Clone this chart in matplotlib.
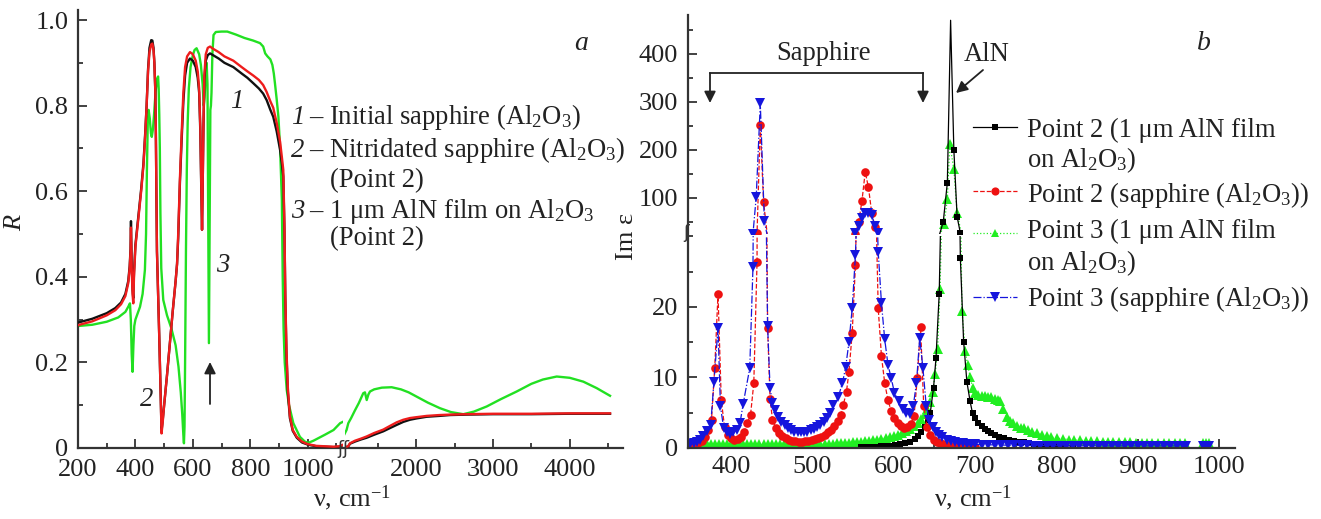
import numpy as np
import matplotlib.pyplot as plt
from matplotlib.lines import Line2D
from matplotlib.patches import FancyArrowPatch
from matplotlib.ticker import MultipleLocator, FuncFormatter

plt.rcParams['font.family'] = ['Liberation Serif', 'DejaVu Serif']
plt.rcParams['mathtext.fontset'] = 'custom'
plt.rcParams['mathtext.rm'] = 'Liberation Serif'
plt.rcParams['mathtext.it'] = 'Liberation Serif:italic'
plt.rcParams['mathtext.bf'] = 'Liberation Serif:bold'

# ---------------- panel a : reflectance R(nu) ----------------
nu_a = [200, 250, 300, 330, 350, 365, 375, 380, 383, 384.5, 387, 390, 392.6, 395, 400, 410, 420, 428,
        434, 439, 444, 449, 455, 459, 463, 466, 469, 471, 473, 475, 479, 483, 487, 491, 495, 500, 510,
        520, 530, 540, 545, 549, 555, 561, 567, 573, 580, 590, 600, 610, 617, 622, 626, 629, 632, 634,
        637, 640, 645, 652, 660, 670, 690, 710, 741, 770, 790, 811, 830, 845, 857, 870, 880, 892, 904,
        910, 915, 919, 922, 926, 931, 938, 948, 962, 980, 1000, 1030, 1060, 1090, 1110, 1135, 1200,
        1280, 1353, 1450, 1569, 1650, 1744, 1830, 1917, 2000, 2135, 2300, 2439, 2656, 3000, 3500,
        4000, 4525]
R_initial = [.293, .302, .315, .327, .34, .36, .39, .425, .465, .53, .43, .37, .35, .41, .475, .54, .605,
             .665, .735, .80, .885, .935, .953, .952, .935, .90, .84, .75, .60, .46, .36, .26, .15, .04,
             .065, .10, .17, .245, .32, .39, .43, .49, .62, .72, .81, .87, .90, .91, .905, .89, .865, .83,
             .74, .62, .51, .60, .75, .86, .905, .918, .922, .918, .91, .90, .89, .875, .865, .852, .84,
             .828, .813, .79, .774, .74, .696, .665, .634, .51, .35, .22, .13, .07, .04, .024, .013, .008,
             .004, .003, .002, .003, .010, .015, .020, .024, .031, .039, .046, .054, .061, .066, .069,
             .073, .075, .077, .078, .079, .079, .080, .080]
R_nitrid = [.287, .296, .310, .322, .336, .355, .385, .42, .46, .515, .42, .36, .338, .40, .47, .535, .60,
            .66, .73, .80, .88, .925, .943, .945, .93, .90, .84, .75, .60, .46, .36, .26, .15, .034,
            .06, .10, .17, .245, .32, .39, .43, .50, .63, .735, .83, .89, .915, .925, .92, .905, .88, .84,
            .75, .63, .51, .60, .76, .87, .92, .935, .938, .933, .925, .915, .905, .89, .88, .87, .86,
            .848, .832, .81, .795, .76, .715, .68, .65, .52, .36, .23, .14, .075, .042, .026, .015, .009,
            .005, .004, .003, .004, .011, .017, .022, .027, .035, .043, .051, .060, .066, .070, .072,
            .075, .077, .078, .079, .080, .080, .081, .081]

nu_film = [200, 250, 300, 340, 365, 375, 381, 384, 387, 390, 393, 396, 400, 408, 416, 425, 433, 437, 440,
           443, 446, 450, 454, 457, 461, 465, 470, 475, 479, 481, 483, 485, 487, 490, 497, 510, 525, 540,
           550, 558, 563, 567, 569, 571, 573, 576, 579, 582, 586, 592, 600, 606, 613, 622, 628, 634, 638,
           641, 645, 648, 651, 653, 655, 656, 657, 659, 661, 663, 665, 668, 672, 680, 700, 720, 750, 780,
           810, 834, 845, 852, 860, 870, 877, 882, 886, 892, 898, 904, 910, 913, 916, 920, 927, 935, 950,
           973, 990, 1002, 1020, 1040, 1060, 1090, 1107, 1113, 1150, 1200, 1250, 1308, 1330, 1353, 1375,
           1396, 1450, 1550, 1678, 1800, 1900, 2004, 2150, 2308, 2450, 2612, 2750, 2917, 3100, 3308,
           3500, 3650, 3830, 4000, 4177, 4350, 4525]
R_film = [.285, .288, .295, .305, .318, .33, .338, .30, .22, .178, .24, .285, .30, .315, .33, .36, .416,
          .50, .65, .76, .79, .77, .735, .727, .745, .78, .83, .862, .868, .84, .78, .70, .55, .42, .346,
          .31, .28, .24, .19, .13, .08, .03, .011, .05, .20, .46, .65, .76, .84, .89, .918, .93, .934,
          .92, .895, .85, .80, .82, .88, .90, .85, .60, .35, .245, .35, .60, .79, .80, .83, .92, .965,
          .972, .973, .973, .966, .958, .952, .946, .938, .922, .915, .908, .895, .875, .852, .815, .774,
          .70, .58, .40, .28, .20, .136, .10, .058, .026, .015, .012, .017, .024, .031, .042, .054, .058,
          .070, .088, .105, .128, .130, .112, .125, .132, .137, .141, .142, .137, .130, .120, .106, .093,
          .084, .079, .085, .097, .114, .132, .150, .160, .167, .164, .155, .140, .122]

# ---------------- panel b : Im eps(nu) ----------------
nu_p2s = [350, 355, 360, 364, 368, 372, 376, 380, 384, 388, 392, 396, 400, 404, 408, 412, 416, 420, 424,
          428, 432, 436, 440, 445, 448, 451, 455, 459, 463, 467, 471, 475, 479, 483, 487, 491, 495, 499,
          503, 507, 511, 515, 519, 523, 527, 531, 535, 538, 542, 545, 549, 553, 557, 561, 565, 569, 573,
          577, 581, 585, 589, 593, 597, 601, 605, 609, 613, 617, 621, 625, 629, 633, 637, 641, 645, 649,
          653, 657, 661, 665, 670, 675, 680, 685, 690, 695, 700]
eps_p2s = [.3, .45, .7, 1.0, 1.6, 2.5, 4.0, 11.4, 21.9, 6.8, 3.0, 1.9, 1.4, 1.2, 1.3, 1.6, 2.3, 3.5, 4.7,
           9.2, 26.4, 252, 92, 17.0, 7.0, 4.0, 2.8, 2.1, 1.7, 1.4, 1.2, 1.05, .95, .9, .9, .95, 1.0, 1.1,
           1.25, 1.4, 1.6, 1.9, 2.2, 2.6, 3.1, 3.8, 4.7, 6.1, 8.0, 10.8, 16.3, 26, 50, 94, 154, 122, 69,
           40, 19.8, 13.0, 9.2, 6.8, 5.2, 4.2, 3.5, 3.1, 2.9, 3.0, 3.4, 4.5, 9.9, 17.2, 5.9, 3.0, 1.8,
           1.2, .9, .7, .5, .4, .35, .3, .25, .22, .2, .17, .15]

nu_p3s = [350, 354, 358, 362, 366, 370, 375, 379, 384, 387, 391, 395, 399, 403, 407, 411, 415, 423, 427,
          431, 436, 441, 445, 448, 451, 454, 458, 462, 466, 470, 474, 478, 482, 486, 490, 494, 498, 502,
          506, 510, 514, 518, 522, 526, 532, 537, 541, 545, 549, 553, 557, 561, 565, 569, 573, 577, 581,
          585, 589, 593, 597, 601, 606, 611, 615, 620, 624, 628, 632, 636, 640, 644, 648, 652, 656, 660,
          665, 670, 675, 680, 685, 690, 695, 700, 708, 716, 724, 732, 740, 748, 756, 764, 772, 780, 788,
          796, 804, 812, 820, 828, 836, 844, 852, 860, 868, 876, 884, 892, 900, 908, 916, 924, 932, 940,
          948, 956, 960, np.nan, 980, 984, 988]
eps_p3s = [.5, .7, .9, 1.2, 1.7, 2.4, 3.3, 9.4, 17.0, 5.9, 2.8, 2.2, 2.0, 2.2, 2.6, 3.5, 6.3, 11.3, 25.7,
           102.7, 297, 52, 17.3, 8.5, 6.4, 5.4, 4.4, 3.7, 3.2, 2.8, 2.5, 2.3, 2.2, 2.2, 2.2, 2.3, 2.5,
           2.7, 3.0, 3.3, 3.7, 4.2, 4.9, 6.1, 7.3, 9.2, 11.5, 15.0, 19.8, 27.4, 42, 58, 68, 68, 64, 42,
           27.8, 20.5, 15.4, 11.8, 9.9, 7.8, 6.6, 5.6, 5.0, 4.8, 5.9, 9.2, 15.6, 11.3, 6.0, 4.0, 3.0, 2.3,
           1.8, 1.5, 1.2, 1.0, .85, .75, .65, .6, .55, .5, .48, .46, .44, .42, .4, .38, .37, .36, .35,
           .34, .33, .32, .31, .3, .3, .3, .3, .3, .3, .3, .3, .3, .3, .3, .3, .3, .3, .3, .3, .3, .3,
           .3, .3, np.nan, .3, .3, .3]

nu_p2f = [560, 566, 572, 578, 584, 590, 596, 602, 608, 614, 620, 626, 630, 634, 638, 642, 645, 649, 652,
          656, 661, 666, 670, 674, 678, 682, 686, 690, 694, 697, 700, 704, 708, 712, 716, 720, 725, 730,
          736, 742, 748, 754, 760, 766, 772, 778, 784, 790, 796, 802, 810, 820]
eps_p2f = [.1, .12, .15, .18, .22, .27, .33, .4, .5, .65, .9, 1.3, 1.7, 2.3, 3.0, 4.0, 5.0, 8.5, 12.7,
           21.9, 50.6, 132, 470, 200, 61, 26.9, 15.1, 9.4, 6.6, 4.9, 4.3, 3.6, 3.1, 2.7, 2.4, 2.1, 1.8,
           1.6, 1.35, 1.15, 1.0, .9, .8, .7, .62, .55, .5, .45, .42, .4, .35, .3]

nu_p3f = [360, 365, 370, 375, 380, 385, 390, 395, 400, 405, 410, 415, 420, 425, 430, 435, 440, 445, 450,
          455, 460, 465, 470, 475, 480, 485, 490, 495, 500, 505, 510, 515, 520, 525, 530, 535, 540, 545,
          550, 555, 560, 565, 570, 575, 580, 585, 590, 595, 600, 605, 610, 615, 620, 625, 630, 634, 638,
          641, 645, 648, 651, 654, 657, 662, 666, 669, 674, 678, 684, 688, 691, 694, 697, 700, 704, 708,
          712, 716, 720, 724, 728, 731, 735, 739, 743, 747, 752, 756, 760, 765, 770, 776, 782, 788, 794,
          801, 808, 815, 822, 829, 836, 843, 850, 857, 864, 870, 877, 884, 891, 898, 905, 911, 918, 925,
          932, 939, 946, 952, 958, np.nan, 980, 984, 988]
eps_p3f = [.5, .5, .5, .5, .5, .5, .5, .5, .5, .5, .5, .5, .5, .5, .5, .5, .5, .5, .5, .5, .5, .5, .5,
           .5, .5, .5, .5, .5, .52, .54, .56, .58, .6, .62, .65, .68, .72, .76, .8, .85, .9, .95, 1.0,
           1.1, 1.2, 1.3, 1.4, 1.55, 1.7, 1.9, 2.1, 2.4, 2.7, 3.1, 3.6, 4.1, 4.8, 5.6, 6.5, 8.0, 10.5,
           14.0, 22.5, 46, 97, 212, 160, 69, 19.5, 13.7, 11.8, 10.1, 8.5, 7.8, 7.5, 7.4, 7.4, 7.3, 7.2,
           7.0, 6.8, 6.6, 5.6, 4.4, 3.9, 3.5, 3.1, 2.9, 2.8, 2.5, 2.3, 2.1, 1.9, 1.7, 1.55, 1.4, 1.3,
           1.2, 1.15, 1.1, 1.05, 1.0, .95, .92, .9, .9, .85, .82, .8, .78, .76, .75, .72, .7, .68, .66,
           .65, .65, .64, np.nan, .7, .7, .7]

# ---------------- figure ----------------
W, H = 1321, 519
fig = plt.figure(figsize=(W / 100, H / 100), dpi=100)
AXC = '#333333'
TXT = '#222222'
FS = 19.2


def fx(x):
    return x / W


def fy(y):
    return 1 - y / H


def box(x0, y0, x1, y1):
    return [fx(x0), fy(y1), (x1 - x0) / W, (y1 - y0) / H]


def style(ax, left=True, bottom=True):
    for s in ['top', 'right']:
        ax.spines[s].set_visible(False)
    ax.spines['left'].set_visible(left)
    ax.spines['bottom'].set_visible(bottom)
    for s in ax.spines.values():
        s.set_linewidth(1.6)
        s.set_color(AXC)
    ax.tick_params(which='both', direction='in', colors=AXC, labelcolor=TXT, labelsize=19, width=1.3)
    ax.tick_params(which='major', length=6.5)
    ax.tick_params(which='minor', length=3.8)
    ax.patch.set_alpha(0)
    if not left:
        ax.tick_params(axis='y', which='both', left=False, labelleft=False)
    if not bottom:
        ax.tick_params(axis='x', which='both', bottom=False, labelbottom=False)


# panel a: broken x axis
axa1 = fig.add_axes(box(78, 10, 343, 448))
axa2 = fig.add_axes(box(345, 10, 623, 448))
style(axa1)
style(axa2, left=False)
for ax in (axa1, axa2):
    ax.plot(nu_film, R_film, color='#22e022', lw=1.7, zorder=2)
    ax.plot(nu_a, R_initial, color='#111111', lw=1.7, zorder=3)
    ax.plot(nu_a, R_nitrid, color='#ee1c1c', lw=1.7, zorder=4)
    ax.set_ylim(0, 1.0234)
    ax.yaxis.set_major_locator(MultipleLocator(0.2))
    ax.yaxis.set_minor_locator(MultipleLocator(0.1))
    ax.tick_params(axis='x', pad=8)
    ax.tick_params(axis='y', pad=7)
axa1.set_xlim(200, 1123)
axa1.xaxis.set_major_locator(MultipleLocator(200))
axa1.xaxis.set_minor_locator(MultipleLocator(100))
axa1.yaxis.set_major_formatter(FuncFormatter(lambda v, p: '0' if abs(v) < 1e-9 else f'{v:.1f}'))
axa2.set_xlim(1070, 4694)
axa2.xaxis.set_major_locator(MultipleLocator(1000))
axa2.xaxis.set_minor_locator(MultipleLocator(500))

# panel b: broken y axis
axb_lo = fig.add_axes(box(688, 236, 1235, 448))
axb_hi = fig.add_axes(box(688, 15, 1235, 234))
style(axb_lo)
style(axb_hi, bottom=False)
series = [
    (nu_p3f, eps_p3f, dict(color='#22ee22', ls=':', marker='^', ms=6.5)),
    (nu_p2f, eps_p2f, dict(color='#000000', ls='-', marker='s', ms=5)),
    (nu_p2s, eps_p2s, dict(color='#ee1111', ls='--', marker='o', ms=6.2)),
    (nu_p3s, eps_p3s, dict(color='#1515dd', ls='-.', marker='v', ms=7)),
]
lo_top, hi_bot = 30.07, 25
for ax, lo, hi in ((axb_lo, -1, lo_top + 0.5), (axb_hi, hi_bot, 400)):
    for x, y, kw in series:
        # only mark the points that fall inside this part of the broken axis
        keep = [i for i, v in enumerate(y) if lo <= v <= hi]
        ax.plot(x, y, lw=0.9, mew=0, markevery=keep, **kw)
    ax.set_xlim(347.1, 1019.7)
    ax.tick_params(axis='y', pad=7)
axb_lo.set_ylim(0, lo_top)
axb_lo.set_yticks([0, 10, 20])
axb_lo.yaxis.set_minor_locator(MultipleLocator(5))
axb_lo.xaxis.set_major_locator(MultipleLocator(100))
axb_lo.xaxis.set_minor_locator(MultipleLocator(50))
axb_lo.tick_params(axis='x', pad=6)
axb_hi.set_ylim(hi_bot, 481)
axb_hi.set_yticks([100, 200, 300, 400])
axb_hi.yaxis.set_minor_locator(MultipleLocator(50))

# axis labels
fig.text(fx(15), fy(223), 'R', style='italic', rotation=90, ha='center', va='center', fontsize=19, color=TXT)
fig.text(fx(352), fy(506), r'ν, cm$^{-1}$', ha='center', va='baseline', fontsize=19, color=TXT)
fig.text(fx(973), fy(506), r'ν, cm$^{-1}$', ha='center', va='baseline', fontsize=19, color=TXT)
fig.text(fx(627), fy(236), 'Im ε', rotation=90, ha='center', va='center', fontsize=19, color=TXT)
fig.text(fx(581), fy(44), 'a', style='italic', ha='center', va='center', fontsize=20, color=TXT)
fig.text(fx(1204), fy(43), 'b', style='italic', ha='center', va='center', fontsize=20, color=TXT)

# axis break marks
fig.text(fx(343), fy(449), 'ʃʃ', ha='center', va='center', fontsize=13, color=AXC,
         family=['DejaVu Sans'])
fig.text(fx(686), fy(233), 'ʃ', ha='center', va='center', fontsize=12, color=AXC,
         family=['DejaVu Sans'])

# panel a text block
a_rows = [
    (124, '1', r'– Initial sapphire (Al$_2$O$_3$)'),
    (157, '2', r'– Nitridated sapphire (Al$_2$O$_3$)'),
    (187, None, '(Point 2)'),
    (218, '3', r'– 1 μm AlN film on Al$_2$O$_3$'),
    (245, None, '(Point 2)'),
]
for yb, num, txt in a_rows:
    if num:
        fig.text(fx(291), fy(yb), num, style='italic', fontsize=FS, color=TXT, va='baseline')
        fig.text(fx(309), fy(yb), txt, fontsize=FS, color=TXT, va='baseline')
    else:
        fig.text(fx(330), fy(yb), txt, fontsize=FS, color=TXT, va='baseline')
fig.text(fx(237), fy(102), '1', style='italic', fontsize=FS, color=TXT, ha='center', va='center')
fig.text(fx(147), fy(400), '2', style='italic', fontsize=FS, color=TXT, ha='center', va='center')
fig.text(fx(223), fy(265), '3', style='italic', fontsize=FS, color=TXT, ha='center', va='center')


def arrow(x0, y0, x1, y1):
    fig.add_artist(FancyArrowPatch((fx(x0), fy(y0)), (fx(x1), fy(y1)), transform=fig.transFigure,
                                   arrowstyle='-|>', mutation_scale=17, lw=1.3, color=TXT,
                                   shrinkA=0, shrinkB=0))


arrow(210, 404, 210, 362)

# panel b annotations
fig.text(fx(823), fy(60), 'Sapphire', fontsize=FS, color=TXT, ha='center', va='baseline')
fig.add_artist(Line2D([fx(710), fx(923)], [fy(73), fy(73)], transform=fig.transFigure, color=TXT, lw=1.3))
arrow(710, 73, 710, 103)
arrow(923, 73, 923, 103)
fig.text(fx(987), fy(61), 'AlN', fontsize=FS, color=TXT, ha='center', va='baseline')
arrow(983, 70, 956, 93)

# panel b legend (drawn by hand so the handle sits on the first text line)
leg_rows = [
    (127, ['Point 2 (1 μm AlN film', r'on Al$_2$O$_3$)'], (137, 167)),
    (191, [r'Point 2 (sapphire (Al$_2$O$_3$))'], (202,)),
    (233, ['Point 3 (1 μm AlN film', r'on Al$_2$O$_3$)'], (238, 270)),
    (297, [r'Point 3 (sapphire (Al$_2$O$_3$))'], (306,)),
]
order = [series[1], series[2], series[0], series[3]]
for (yh, lines, bases), (_, _, kw) in zip(leg_rows, order):
    fig.add_artist(Line2D([fx(973), fx(1017)], [fy(yh), fy(yh)], transform=fig.transFigure,
                          color=kw['color'], ls=kw['ls'], lw=0.9))
    fig.add_artist(Line2D([fx(995)], [fy(yh)], transform=fig.transFigure, color=kw['color'],
                          marker=kw['marker'], ms=kw['ms'] * 0.95, mew=0, ls='none'))
    for t, yb in zip(lines, bases):
        fig.text(fx(1027), fy(yb), t, fontsize=FS, color=TXT, va='baseline')

fig.savefig('out.png', dpi=100)
